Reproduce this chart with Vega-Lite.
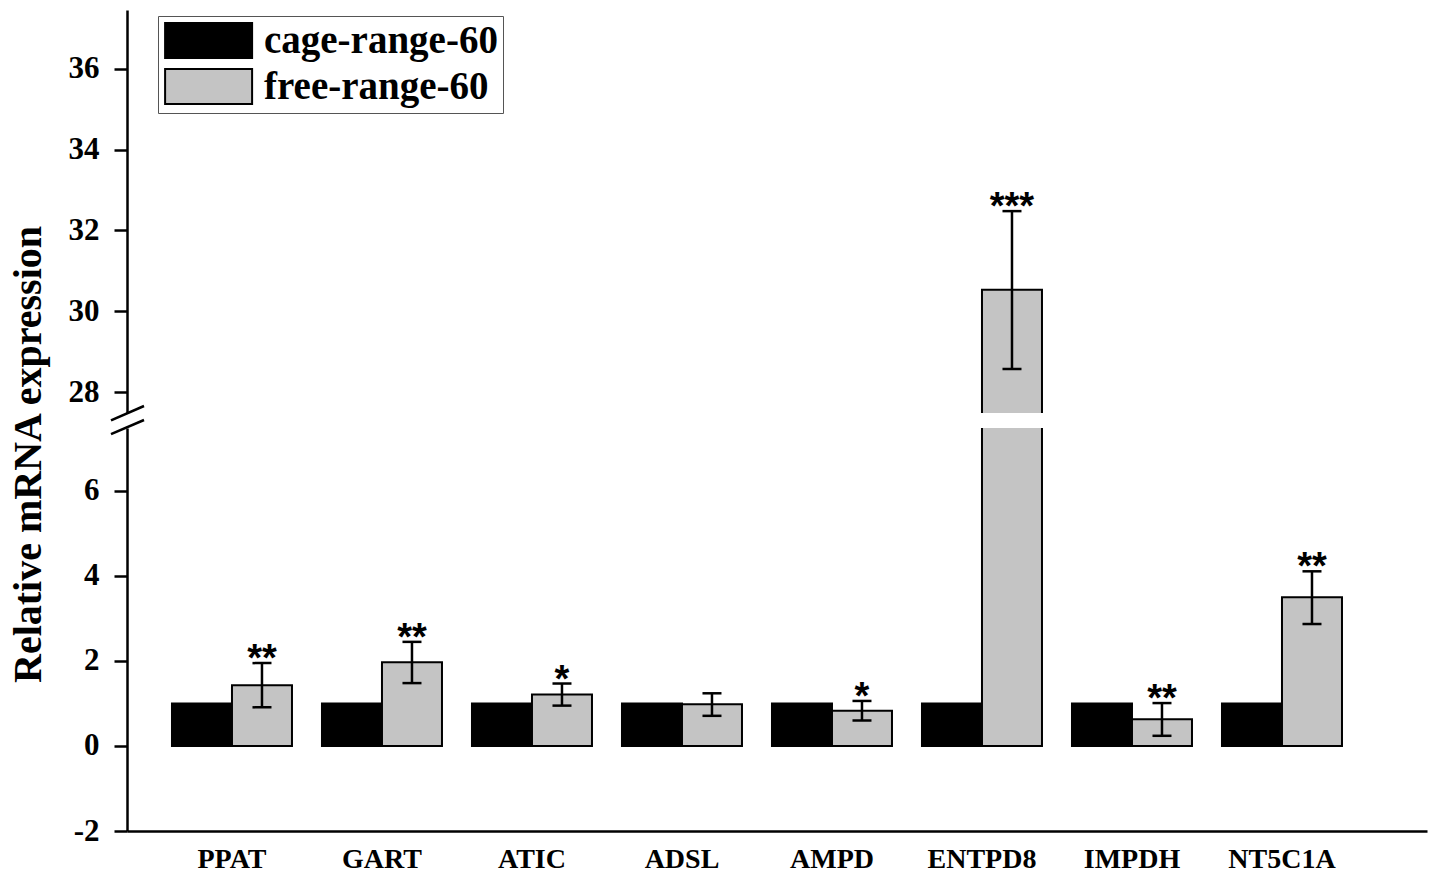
{
  "$schema": "https://vega.github.io/schema/vega-lite/v6.json",
  "padding": {"left": 8, "top": 10, "right": 5, "bottom": 5},
  "background": "white",
  "spacing": 15,
  "bounds": "flush",
  "config": {
    "view": {"stroke": null},
    "axis": {
      "domainColor": "black", "domainWidth": 2.5,
      "tickColor": "black", "tickWidth": 2.5, "tickSize": 13,
      "labelFont": "Liberation Serif", "labelFontWeight": "bold", "labelColor": "black",
      "titleFont": "Liberation Serif", "titleFontWeight": "bold", "titleColor": "black",
      "grid": false
    }
  },
  "resolve": {"scale": {"y": "independent", "color": "independent"}},
  "data": {"values": [
    {"gene": "PPAT", "group": "cage-range-60", "value": 1.0, "lo": null, "hi": null, "sig": ""},
    {"gene": "PPAT", "group": "free-range-60", "value": 1.43, "lo": 0.91, "hi": 1.95, "sig": "**"},
    {"gene": "GART", "group": "cage-range-60", "value": 1.0, "lo": null, "hi": null, "sig": ""},
    {"gene": "GART", "group": "free-range-60", "value": 1.97, "lo": 1.48, "hi": 2.45, "sig": "**"},
    {"gene": "ATIC", "group": "cage-range-60", "value": 1.0, "lo": null, "hi": null, "sig": ""},
    {"gene": "ATIC", "group": "free-range-60", "value": 1.21, "lo": 0.95, "hi": 1.47, "sig": "*"},
    {"gene": "ADSL", "group": "cage-range-60", "value": 1.0, "lo": null, "hi": null, "sig": ""},
    {"gene": "ADSL", "group": "free-range-60", "value": 0.98, "lo": 0.71, "hi": 1.24, "sig": ""},
    {"gene": "AMPD", "group": "cage-range-60", "value": 1.0, "lo": null, "hi": null, "sig": ""},
    {"gene": "AMPD", "group": "free-range-60", "value": 0.83, "lo": 0.6, "hi": 1.06, "sig": "*"},
    {"gene": "ENTPD8", "group": "cage-range-60", "value": 1.0, "lo": null, "hi": null, "sig": ""},
    {"gene": "ENTPD8", "group": "free-range-60", "value": 30.53, "lo": 28.57, "hi": 32.48, "sig": "***"},
    {"gene": "IMPDH", "group": "cage-range-60", "value": 1.0, "lo": null, "hi": null, "sig": ""},
    {"gene": "IMPDH", "group": "free-range-60", "value": 0.63, "lo": 0.24, "hi": 1.01, "sig": "**"},
    {"gene": "NT5C1A", "group": "cage-range-60", "value": 1.0, "lo": null, "hi": null, "sig": ""},
    {"gene": "NT5C1A", "group": "free-range-60", "value": 3.5, "lo": 2.87, "hi": 4.11, "sig": "**"}
  ]},
  "vconcat": [
    {
      "width": 1300, "height": 403,
      "layer": [
        {
          "mark": {"type": "bar", "stroke": "black", "strokeWidth": 2, "clip": true},
          "encoding": {
            "x": {"field": "gene", "type": "nominal", "sort": null, "axis": null,
                  "scale": {"paddingInner": 0.2, "paddingOuter": 0.4333, "align": 0.346}},
            "xOffset": {"field": "group", "type": "nominal", "scale": {"domain": ["cage-range-60", "free-range-60"]}},
            "y": {"field": "value", "type": "quantitative",
                  "scale": {"domain": [27.48, 37.461], "nice": false, "zero": false},
                  "axis": {"values": [28, 30, 32, 34, 36], "title": null, "labelFontSize": 31, "labelPadding": 15}},
            "color": {"field": "group", "type": "nominal",
                      "scale": {"domain": ["cage-range-60", "free-range-60"], "range": ["#000000", "#c4c4c4"]},
                      "legend": {"orient": "none", "legendX": 31, "legendY": 6, "title": null,
                                 "symbolType": "M-1,-1H4V1H-1Z", "symbolSize": 1211,
                                 "symbolStrokeColor": "black", "symbolStrokeWidth": 2,
                                 "labelFont": "Liberation Serif", "labelFontWeight": "bold", "labelFontSize": 39,
                                 "labelColor": "black", "labelOffset": 62, "labelLimit": 500, "rowPadding": 3, "padding": 5,
                                 "strokeColor": "#555555", "fillColor": "white", "symbolOpacity": 1}}
          }
        },
        {
          "transform": [{"filter": "datum.lo != null && datum.hi > 27.48"}],
          "mark": {"type": "rule", "stroke": "black", "strokeWidth": 2.5, "clip": true},
          "encoding": {
            "x": {"field": "gene", "type": "nominal", "sort": null, "axis": null},
            "xOffset": {"field": "group", "type": "nominal"},
            "y": {"field": "lo", "type": "quantitative", "title": null},
            "y2": {"field": "hi"}
          }
        },
        {
          "transform": [{"filter": "datum.lo != null && datum.hi > 27.48"}],
          "mark": {"type": "tick", "color": "black", "thickness": 2.5, "size": 19, "opacity": 1, "clip": true},
          "encoding": {
            "x": {"field": "gene", "type": "nominal", "sort": null, "axis": null},
            "xOffset": {"field": "group", "type": "nominal"},
            "y": {"field": "hi", "type": "quantitative", "title": null}
          }
        },
        {
          "transform": [{"filter": "datum.lo != null && datum.lo > 27.48"}],
          "mark": {"type": "tick", "color": "black", "thickness": 2.5, "size": 19, "opacity": 1, "clip": true},
          "encoding": {
            "x": {"field": "gene", "type": "nominal", "sort": null, "axis": null},
            "xOffset": {"field": "group", "type": "nominal"},
            "y": {"field": "lo", "type": "quantitative", "title": null}
          }
        },
        {
          "transform": [{"filter": "datum.sig != '' && datum.hi > 27.48"}],
          "mark": {"type": "text", "font": "Liberation Sans", "fontWeight": "bold", "fontSize": 38, "color": "black", "baseline": "alphabetic", "align": "center", "dy": 8},
          "encoding": {
            "x": {"field": "gene", "type": "nominal", "sort": null, "axis": null},
            "xOffset": {"field": "group", "type": "nominal"},
            "y": {"field": "hi", "type": "quantitative", "title": null},
            "text": {"field": "sig"}
          }
        }
      ]
    },
    {
      "width": 1300, "height": 403,
      "layer": [
        {
          "mark": {"type": "bar", "stroke": "black", "strokeWidth": 2, "clip": true},
          "encoding": {
            "x": {"field": "gene", "type": "nominal", "sort": null,
                  "scale": {"paddingInner": 0.2, "paddingOuter": 0.4333, "align": 0.346},
                  "axis": {"title": null, "ticks": false, "labelAngle": 0, "labelFontSize": 28, "labelPadding": 14}},
            "xOffset": {"field": "group", "type": "nominal", "scale": {"domain": ["cage-range-60", "free-range-60"]}},
            "y": {"field": "value", "type": "quantitative",
                  "scale": {"domain": [-2, 7.482], "nice": false, "zero": false},
                  "axis": {"values": [-2, 0, 2, 4, 6], "title": "Relative mRNA expression", "titleFontSize": 40,
                           "titleY": 26, "titlePadding": 25, "labelFontSize": 31, "labelPadding": 15,
                           "labelExpr": "replace(datum.label, '\u2212', '-')"}},
            "color": {"field": "group", "type": "nominal",
                      "scale": {"domain": ["cage-range-60", "free-range-60"], "range": ["#000000", "#c4c4c4"]},
                      "legend": null}
          }
        },
        {
          "transform": [{"filter": "datum.lo != null && datum.lo < 7.48"}],
          "mark": {"type": "rule", "stroke": "black", "strokeWidth": 2.5, "clip": true},
          "encoding": {
            "x": {"field": "gene", "type": "nominal", "sort": null},
            "xOffset": {"field": "group", "type": "nominal"},
            "y": {"field": "lo", "type": "quantitative", "title": "Relative mRNA expression"},
            "y2": {"field": "hi"}
          }
        },
        {
          "transform": [{"filter": "datum.lo != null && datum.hi < 7.48"}],
          "mark": {"type": "tick", "color": "black", "thickness": 2.5, "size": 19, "opacity": 1, "clip": true},
          "encoding": {
            "x": {"field": "gene", "type": "nominal", "sort": null},
            "xOffset": {"field": "group", "type": "nominal"},
            "y": {"field": "hi", "type": "quantitative", "title": "Relative mRNA expression"}
          }
        },
        {
          "transform": [{"filter": "datum.lo != null && datum.lo < 7.48"}],
          "mark": {"type": "tick", "color": "black", "thickness": 2.5, "size": 19, "opacity": 1, "clip": true},
          "encoding": {
            "x": {"field": "gene", "type": "nominal", "sort": null},
            "xOffset": {"field": "group", "type": "nominal"},
            "y": {"field": "lo", "type": "quantitative", "title": "Relative mRNA expression"}
          }
        },
        {
          "transform": [{"filter": "datum.sig != '' && datum.hi < 7.48"}],
          "mark": {"type": "text", "font": "Liberation Sans", "fontWeight": "bold", "fontSize": 38, "color": "black", "baseline": "alphabetic", "align": "center", "dy": 8},
          "encoding": {
            "x": {"field": "gene", "type": "nominal", "sort": null},
            "xOffset": {"field": "group", "type": "nominal"},
            "y": {"field": "hi", "type": "quantitative", "title": "Relative mRNA expression"},
            "text": {"field": "sig"}
          }
        },
        {
          "transform": [{"filter": "datum.gene == 'PPAT' && datum.group == 'cage-range-60'"}],
          "mark": {"type": "rule", "stroke": "black", "strokeWidth": 2.5, "clip": false},
          "encoding": {
            "x": {"value": -16}, "x2": {"value": 17},
            "y": {"datum": 7.66, "type": "quantitative"}, "y2": {"datum": 8.0}
          }
        },
        {
          "transform": [{"filter": "datum.gene == 'PPAT' && datum.group == 'cage-range-60'"}],
          "mark": {"type": "rule", "stroke": "black", "strokeWidth": 2.5, "clip": false},
          "encoding": {
            "x": {"value": -16}, "x2": {"value": 17},
            "y": {"datum": 7.34, "type": "quantitative"}, "y2": {"datum": 7.67}
          }
        }
      ]
    }
  ]
}
